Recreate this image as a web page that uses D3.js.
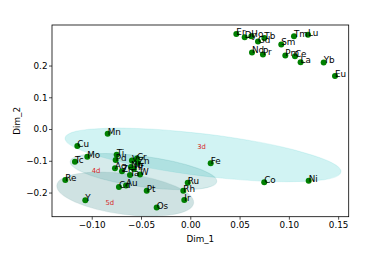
<!DOCTYPE html>
<html>
<head>
<meta charset="utf-8">
<script src="https://cdn.jsdelivr.net/npm/d3@7"></script>
<style>
  html, body { margin: 0; padding: 0; background: #fff; }
  text { font-family: "DejaVu Sans", sans-serif; }
</style>
</head>
<body>
<svg id="chart" width="366" height="258"></svg>
<script>
// element labels and their coordinates on the two dimensions
const elements = ['Er', 'Dy', 'Ho', 'Gd', 'Tb', 'Tm', 'Lu', 'Sm', 'Nd', 'Pr', 'Pm', 'Ce', 'La', 'Yb', 'Eu',
  'Mn', 'Cu', 'Mo', 'Tc', 'Ti', 'Pd', 'V', 'Cr', 'Zn', 'Ag', 'Zr', 'Nb', 'Hf', 'Ta', 'W', 'Cd', 'Au', 'Pt',
  'Os', 'Ru', 'Rh', 'Ir', 'Re', 'Y', 'Fe', 'Co', 'Ni']
const dim1 = [0.0467, 0.0552, 0.0619, 0.0687, 0.0751, 0.1052, 0.1194, 0.0923, 0.0626, 0.0737, 0.0964, 0.1062, 0.1119, 0.1353, 0.1468,
  -0.0838, -0.1146, -0.1045, -0.1170, -0.0747, -0.0757, -0.0592, -0.0541, -0.0531, -0.0764, -0.0693, -0.0602, -0.0572, -0.0612, -0.0510, -0.0724, -0.0652, -0.0442,
  -0.0341, -0.0026, -0.0071, -0.0061, -0.1268, -0.1065, 0.0207, 0.0750, 0.1201]
const dim2 = [0.2997, 0.2893, 0.2925, 0.2757, 0.2871, 0.2925, 0.2966, 0.2663, 0.2412, 0.2349, 0.2317, 0.2296, 0.2107, 0.2097, 0.1667,
  -0.0148, -0.0535, -0.0870, -0.1027, -0.0808, -0.0975, -0.0991, -0.0928, -0.1069, -0.1233, -0.1328, -0.1195, -0.1258, -0.1447, -0.1431, -0.1824, -0.1777, -0.1940,
  -0.2475, -0.1689, -0.1940, -0.2233, -0.1604, -0.2245, -0.1078, -0.1676, -0.1626]

// group ellipses (centre, semi axes in data units, tilt in degrees) and their labels
const groups = ['3d', '4d', '5d']
const groupCx = [0.0129, -0.0475, -0.0660]
const groupCy = [-0.0814, -0.1340, -0.2050]
const groupRx = [0.1410, 0.0750, 0.0700]
const groupRy = [0.0660, 0.0480, 0.0640]
const groupTilt = [7, 7.8, 7.5]
const groupLabelX = [0.0070, -0.1000, -0.0860]
const groupLabelY = [-0.0630, -0.1380, -0.2390]

const xTicks = [-0.10, -0.05, 0.00, 0.05, 0.10, 0.15]
const yTicks = [-0.2, -0.1, 0.0, 0.1, 0.2]

const W = 366, H = 258
const m = { left: 52, right: 17.3, top: 25, bottom: 41.3 }

const svg = d3.select('#chart')
const x = d3.scaleLinear().domain([-0.1403, 0.1607]).range([m.left, W - m.right])
const y = d3.scaleLinear().domain([-0.2761, 0.3277]).range([H - m.bottom, m.top])

svg.append('defs').append('clipPath').attr('id', 'plot-clip')
  .append('rect').attr('x', m.left).attr('y', m.top)
  .attr('width', W - m.left - m.right).attr('height', H - m.top - m.bottom)

const fills = ['#00bfbf', '#008080', '#5f9ea0']
const fillOp = [0.18, 0.16, 0.3]

const eg = svg.append('g').attr('clip-path', 'url(#plot-clip)')
groups.forEach(function (gname, i) {
  var rx = Math.abs(x(groupRx[i]) - x(0))
  var ry = Math.abs(y(groupRy[i]) - y(0))
  eg.append('ellipse')
    .attr('cx', 0).attr('cy', 0).attr('rx', rx).attr('ry', ry)
    .attr('transform', 'translate(' + x(groupCx[i]) + ',' + y(groupCy[i]) + ') rotate(' + groupTilt[i] + ')')
    .attr('fill', fills[i]).attr('fill-opacity', fillOp[i])
    .attr('stroke', fills[i]).attr('stroke-opacity', 0.12).attr('stroke-width', 1)
})

groups.forEach(function (gname, i) {
  svg.append('text').attr('x', x(groupLabelX[i])).attr('y', y(groupLabelY[i]))
    .attr('font-size', 6.8).attr('fill', '#d62728').text(gname)
})

const pts = elements.map(function (e, i) { return { name: e, x: dim1[i], y: dim2[i] } })

svg.append('g').selectAll('circle').data(pts).join('circle')
  .attr('cx', function (d) { return x(d.x) }).attr('cy', function (d) { return y(d.y) })
  .attr('r', 3).attr('fill', '#008000')

svg.append('g').selectAll('text').data(pts).join('text')
  .attr('x', function (d) { return x(d.x) }).attr('y', function (d) { return y(d.y) + 1 })
  .attr('font-size', 8.8).attr('fill', '#000').text(function (d) { return d.name })

const fmtX = function (v) { return d3.format('.2f')(v).replace('-', '\u2212') }
const fmtY = function (v) { return d3.format('.1f')(v).replace('-', '\u2212') }

const xAxis = svg.append('g').attr('transform', 'translate(0,' + (H - m.bottom) + ')')
  .call(d3.axisBottom(x).tickValues(xTicks).tickFormat(fmtX).tickSize(3).tickPadding(2.5))
const yAxis = svg.append('g').attr('transform', 'translate(' + m.left + ',0)')
  .call(d3.axisLeft(y).tickValues(yTicks).tickFormat(fmtY).tickSize(3).tickPadding(1.5))
;[xAxis, yAxis].forEach(function (a) {
  a.select('.domain').remove()
  a.selectAll('text').attr('font-size', 8.8).attr('font-family', 'DejaVu Sans').attr('fill', '#000')
  a.selectAll('line').attr('stroke', '#000').attr('stroke-width', 0.7)
})

svg.append('rect').attr('x', m.left).attr('y', m.top)
  .attr('width', W - m.left - m.right).attr('height', H - m.top - m.bottom)
  .attr('fill', 'none').attr('stroke', '#000').attr('stroke-width', 0.8)

svg.append('text').attr('x', (m.left + W - m.right) / 2).attr('y', 241.5)
  .attr('text-anchor', 'middle').attr('font-size', 8.8).text('Dim_1')
svg.append('text').attr('transform', 'translate(20,' + ((m.top + H - m.bottom) / 2) + ') rotate(-90)')
  .attr('text-anchor', 'middle').attr('font-size', 8.8).text('Dim_2')
</script>
</body>
</html>
